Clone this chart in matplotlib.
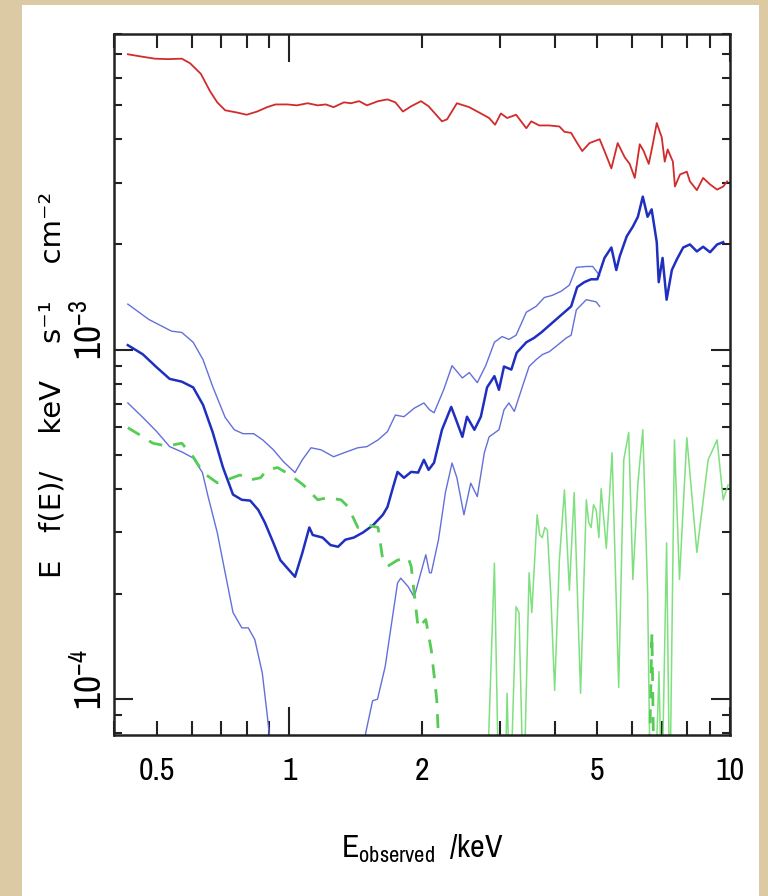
import matplotlib
matplotlib.use("Agg")
import matplotlib.pyplot as plt
from matplotlib.patches import Rectangle
from matplotlib.transforms import ScaledTranslation
from matplotlib.ticker import FixedLocator, FuncFormatter, NullFormatter

plt.rcParams['font.family'] = ['Archivo Narrow', 'DejaVu Sans']
plt.rcParams['mathtext.fontset'] = 'custom'
plt.rcParams['mathtext.rm'] = 'Archivo Narrow'
plt.rcParams['mathtext.it'] = 'Archivo Narrow'

# total model (red)
red_e = [0.43, 0.46, 0.495, 0.53, 0.57, 0.595, 0.63, 0.66, 0.686, 0.715, 0.76, 0.80, 0.845, 0.89,
         0.93, 0.99, 1.04, 1.10, 1.16, 1.21, 1.26, 1.33, 1.38, 1.44, 1.50, 1.59, 1.67, 1.74, 1.81,
         1.89, 1.99, 2.07, 2.22, 2.28, 2.40, 2.56, 2.72, 2.84, 2.93, 3.02, 3.12, 3.27, 3.45, 3.54,
         3.69, 3.89, 4.10, 4.21, 4.36, 4.50, 4.62, 4.80, 5.06, 5.19, 5.38, 5.56, 5.77, 5.92, 6.08,
         6.24, 6.37, 6.54, 6.68, 6.82, 7.0, 7.11, 7.22, 7.42, 7.50, 7.70, 7.98, 8.11, 8.41, 8.69,
         9.01, 9.35, 9.65, 9.85]
red_f = [7.0e-3, 6.9e-3, 6.8e-3, 6.78e-3, 6.8e-3, 6.6e-3, 6.15e-3, 5.5e-3, 5.1e-3, 4.84e-3, 4.77e-3,
         4.7e-3, 4.8e-3, 4.94e-3, 5.03e-3, 5.03e-3, 5.0e-3, 5.07e-3, 5.0e-3, 5.03e-3, 4.94e-3, 5.1e-3,
         5.07e-3, 5.14e-3, 5.0e-3, 5.14e-3, 5.2e-3, 5.1e-3, 4.8e-3, 4.97e-3, 5.14e-3, 4.97e-3, 4.5e-3,
         4.56e-3, 5.07e-3, 4.94e-3, 4.74e-3, 4.6e-3, 4.4e-3, 4.74e-3, 4.6e-3, 4.7e-3, 4.3e-3, 4.5e-3,
         4.38e-3, 4.38e-3, 4.35e-3, 4.2e-3, 4.17e-3, 3.9e-3, 3.7e-3, 3.9e-3, 4.0e-3, 3.7e-3, 3.3e-3,
         3.9e-3, 3.55e-3, 3.4e-3, 3.1e-3, 3.87e-3, 3.7e-3, 3.4e-3, 3.87e-3, 4.45e-3, 4.05e-3, 3.45e-3,
         3.74e-3, 3.45e-3, 2.93e-3, 3.17e-3, 3.23e-3, 3.03e-3, 2.86e-3, 3.1e-3, 2.97e-3, 2.87e-3,
         2.93e-3, 3.03e-3]

# unfolded spectrum (blue)
blue_e = [0.43, 0.465, 0.50, 0.535, 0.57, 0.605, 0.637, 0.67, 0.707, 0.745, 0.78, 0.815, 0.85, 0.88,
          0.92, 0.954, 0.99, 1.03, 1.07, 1.11, 1.13, 1.19, 1.24, 1.29, 1.34, 1.40, 1.47, 1.55, 1.63,
          1.67, 1.72, 1.76, 1.82, 1.89, 1.96, 2.02, 2.07, 2.13, 2.22, 2.33, 2.39, 2.47, 2.53, 2.63,
          2.72, 2.81, 2.92, 2.99, 3.07, 3.19, 3.28, 3.45, 3.59, 3.73, 3.85, 4.03, 4.21, 4.36, 4.50,
          4.67, 4.84, 5.0, 5.19, 5.38, 5.52, 5.62, 5.83, 6.02, 6.18, 6.34, 6.50, 6.64, 6.82, 6.89,
          7.03, 7.18, 7.38, 7.57, 7.83, 8.11, 8.41, 8.69, 9.01, 9.35, 9.65]
blue_f = [1.03e-3, 9.7e-4, 8.9e-4, 8.25e-4, 8.1e-4, 7.8e-4, 6.95e-4, 5.8e-4, 4.6e-4, 3.85e-4, 3.72e-4,
          3.7e-4, 3.48e-4, 3.2e-4, 2.8e-4, 2.5e-4, 2.37e-4, 2.24e-4, 2.62e-4, 3.1e-4, 2.95e-4, 2.9e-4,
          2.76e-4, 2.73e-4, 2.86e-4, 2.9e-4, 3.0e-4, 3.15e-4, 3.37e-4, 3.55e-4, 4.05e-4, 4.47e-4,
          4.3e-4, 4.47e-4, 4.45e-4, 4.84e-4, 4.53e-4, 4.75e-4, 5.9e-4, 6.86e-4, 6.3e-4, 5.63e-4,
          6.43e-4, 5.9e-4, 6.43e-4, 7.8e-4, 8.4e-4, 7.68e-4, 8.95e-4, 8.77e-4, 9.8e-4, 1.05e-3,
          1.08e-3, 1.12e-3, 1.16e-3, 1.22e-3, 1.28e-3, 1.33e-3, 1.51e-3, 1.56e-3, 1.59e-3, 1.59e-3,
          1.83e-3, 1.96e-3, 1.69e-3, 1.85e-3, 2.11e-3, 2.25e-3, 2.4e-3, 2.74e-3, 2.4e-3, 2.52e-3,
          2.03e-3, 1.56e-3, 1.83e-3, 1.39e-3, 1.69e-3, 1.81e-3, 1.96e-3, 2.0e-3, 1.91e-3, 1.97e-3,
          1.9e-3, 2.0e-3, 2.03e-3]

upper_e = [0.43, 0.48, 0.54, 0.57, 0.605, 0.637, 0.67, 0.715, 0.75, 0.785, 0.83, 0.87, 0.92, 0.97,
           1.03, 1.07, 1.12, 1.18, 1.26, 1.33, 1.43, 1.50, 1.59, 1.67, 1.74, 1.82, 1.92, 2.02, 2.08,
           2.13, 2.24, 2.34, 2.47, 2.56, 2.67, 2.79, 2.92, 3.04, 3.15, 3.27, 3.45, 3.63, 3.79, 3.95,
           4.14, 4.32, 4.48, 4.72, 4.88, 5.06]
upper_f = [1.35e-3, 1.22e-3, 1.13e-3, 1.12e-3, 1.05e-3, 9.36e-4, 7.84e-4, 6.4e-4, 5.9e-4, 5.75e-4,
           5.75e-4, 5.52e-4, 5.17e-4, 4.78e-4, 4.45e-4, 4.84e-4, 5.24e-4, 5.17e-4, 4.94e-4, 5.07e-4,
           5.24e-4, 5.28e-4, 5.52e-4, 5.83e-4, 6.5e-4, 6.43e-4, 6.8e-4, 7.04e-4, 6.73e-4, 6.6e-4,
           7.68e-4, 9.0e-4, 8.3e-4, 8.6e-4, 8.05e-4, 9.0e-4, 1.05e-3, 1.09e-3, 1.07e-3, 1.1e-3,
           1.28e-3, 1.33e-3, 1.41e-3, 1.43e-3, 1.47e-3, 1.53e-3, 1.72e-3, 1.73e-3, 1.73e-3, 1.63e-3]

lower_e = [0.43, 0.465, 0.50, 0.535, 0.57, 0.605, 0.635, 0.654, 0.686, 0.715, 0.745, 0.78, 0.807,
           0.835, 0.868, 0.89, 0.90, 0.92, 1.47, 1.49, 1.545, 1.585, 1.65, 1.70, 1.76, 1.79, 1.86,
           1.92, 2.04, 2.08, 2.10, 2.18, 2.26, 2.34, 2.40, 2.49, 2.58, 2.67, 2.77, 2.84, 2.99, 3.07,
           3.15, 3.24, 3.38, 3.50, 3.63, 3.75, 3.89, 4.06, 4.25, 4.36, 4.48, 4.72, 4.97, 5.06]
lower_f = [7.04e-4, 6.4e-4, 5.83e-4, 5.28e-4, 5.1e-4, 4.9e-4, 4.45e-4, 3.8e-4, 3.0e-4, 2.3e-4, 1.77e-4,
           1.6e-4, 1.6e-4, 1.48e-4, 1.19e-4, 9.1e-5, 8.0e-5, 5e-5, 5e-5, 8.0e-5, 9.9e-5, 1.0e-4,
           1.24e-4, 1.6e-4, 2.15e-4, 2.22e-4, 2.1e-4, 1.96e-4, 2.59e-4, 2.3e-4, 2.3e-4, 2.86e-4,
           3.9e-4, 4.74e-4, 4.3e-4, 3.37e-4, 4.15e-4, 3.8e-4, 5.07e-4, 5.63e-4, 5.9e-4, 6.73e-4,
           7.04e-4, 6.66e-4, 7.84e-4, 8.95e-4, 9.36e-4, 9.68e-4, 9.87e-4, 1.03e-3, 1.08e-3, 1.1e-3,
           1.3e-3, 1.39e-3, 1.37e-3, 1.33e-3]

# green components
gdash_e = [0.43, 0.458, 0.49, 0.527, 0.57, 0.605, 0.637, 0.686, 0.72, 0.773, 0.815, 0.86, 0.89, 0.94,
           1.005, 1.076, 1.16, 1.22, 1.31, 1.36, 1.43, 1.50, 1.59, 1.63, 1.67, 1.76, 1.86, 1.89, 1.96,
           2.04, 2.10, 2.16, 2.20, 6.55, 6.65, 6.72, 10.0]
gdash_f = [5.98e-4, 5.7e-4, 5.4e-4, 5.3e-4, 5.4e-4, 4.94e-4, 4.45e-4, 4.16e-4, 4.24e-4, 4.38e-4,
           4.24e-4, 4.3e-4, 4.53e-4, 4.6e-4, 4.38e-4, 4.1e-4, 3.72e-4, 3.77e-4, 3.72e-4, 3.55e-4,
           3.1e-4, 3.15e-4, 3.1e-4, 2.5e-4, 2.4e-4, 2.5e-4, 2.54e-4, 2.4e-4, 1.6e-4, 1.69e-4, 1.38e-4,
           1.0e-4, 6e-5, 6e-5, 1.55e-4, 6e-5, 6e-5]

gsol_e = [2.80, 2.92, 2.99, 3.08, 3.12, 3.17, 3.27, 3.32, 3.40, 3.50, 3.55, 3.65, 3.70, 3.75, 3.80,
          3.85, 3.92, 4.0, 4.1, 4.21, 4.32, 4.43, 4.58, 4.72, 4.78, 4.84, 4.90, 4.97, 5.04, 5.1, 5.24,
          5.4, 5.59, 5.74, 5.89, 6.02, 6.18, 6.34, 6.5, 6.6, 6.75, 6.9, 7.0, 7.18, 7.3, 7.48, 7.68,
          7.98, 8.41, 8.92, 9.35, 9.65, 9.9]
gsol_f = [5e-5, 2.45e-4, 5e-5, 5e-5, 1.04e-4, 5e-5, 1.84e-4, 1.77e-4, 5e-5, 2.3e-4, 1.77e-4, 3.37e-4,
          2.95e-4, 2.9e-4, 3.1e-4, 3.05e-4, 2.0e-4, 1.06e-4, 2.5e-4, 3.97e-4, 2.05e-4, 3.9e-4, 1.04e-4,
          3.72e-4, 3.2e-4, 3.1e-4, 3.6e-4, 3.48e-4, 2.9e-4, 4.0e-4, 2.7e-4, 5.07e-4, 1.08e-4, 4.84e-4,
          5.8e-4, 2.2e-4, 4.15e-4, 5.9e-4, 2.05e-4, 5e-5, 5e-5, 1.2e-4, 5e-5, 2.8e-4, 5e-5, 5.52e-4,
          2.2e-4, 5.6e-4, 2.63e-4, 4.84e-4, 5.52e-4, 3.72e-4, 4.1e-4]

x_labels = {0.5: '0.5', 1: '1', 2: '2', 5: '5', 10: '10'}

fig = plt.figure(figsize=(7.68, 8.96), dpi=100)
fig.patch.set_facecolor('#dccaa5')
fig.patches.append(Rectangle((22 / 768, 0), (759 - 22) / 768, 891 / 896, transform=fig.transFigure,
                             facecolor='white', edgecolor='none', zorder=-10))

ax = fig.add_axes([114 / 768, 161 / 896, 616 / 768, 701 / 896])
ax.set_zorder(5)
ax.set_xscale('log')
ax.set_yscale('log')

ax.plot(red_e, red_f, color='#d22b2b', lw=1.3)
ax.plot(upper_e, upper_f, color='#6370da', lw=1.0)
ax.plot(lower_e, lower_f, color='#6370da', lw=1.0)
ax.plot(blue_e, blue_f, color='#1f2fbf', lw=1.8)
ax.plot(gsol_e, gsol_f, color='#7fe07f', lw=1.1)
ax.plot(gdash_e, gdash_f, color='#55cc55', lw=2.0, ls=(0, (5, 4)))

ax.set_xlim(0.4, 10)
ax.set_ylim(7.9e-5, 8.0e-3)

# ticks
ax.xaxis.set_major_locator(FixedLocator([1, 10]))
ax.xaxis.set_minor_locator(FixedLocator([0.4, 0.5, 0.6, 0.7, 0.8, 0.9, 2, 3, 4, 5, 6, 7, 8, 9]))
lab = FuncFormatter(lambda v, p: x_labels.get(round(v, 2) if v < 1 else int(round(v)), ''))
ax.xaxis.set_major_formatter(lab)
ax.xaxis.set_minor_formatter(lab)

ax.yaxis.set_major_locator(FixedLocator([1e-4, 1e-3]))
ax.yaxis.set_minor_locator(FixedLocator([8e-5, 9e-5] + [k * 1e-4 for k in range(2, 10)]
                                        + [k * 1e-3 for k in range(2, 9)]))
ax.yaxis.set_major_formatter(FuncFormatter(lambda v, p: r'$10^{-4}$' if v < 5e-4 else r'$10^{-3}$'))
ax.yaxis.set_minor_formatter(NullFormatter())

ax.tick_params(which='both', direction='in', top=True, right=True, width=1.5, color='#222222')
ax.tick_params(axis='x', which='major', length=20, labelsize=23, pad=16)
ax.tick_params(axis='x', which='minor', length=10, labelsize=23, pad=16)
ax.tick_params(axis='y', which='major', length=14, labelsize=27, pad=4)
ax.tick_params(axis='y', which='minor', length=6)
shift = ScaledTranslation(0, 0.2, fig.dpi_scale_trans)
for tk in ax.yaxis.get_major_ticks():
    tk.label1.set_rotation(90)
    tk.label1.set_va('center')
    tk.label1.set_transform(tk.label1.get_transform() + shift)

for s in ax.spines.values():
    s.set_linewidth(1.8)
    s.set_color('#222222')

ax.set_xlabel(r'E$_{\rm observed}$  /keV', fontsize=23, labelpad=34)
ax.set_ylabel('E   f(E)/    keV    s⁻¹    cm⁻²', fontsize=21, family='DejaVu Sans', labelpad=4)

fig.savefig('out.png', dpi=100, facecolor=fig.get_facecolor())
